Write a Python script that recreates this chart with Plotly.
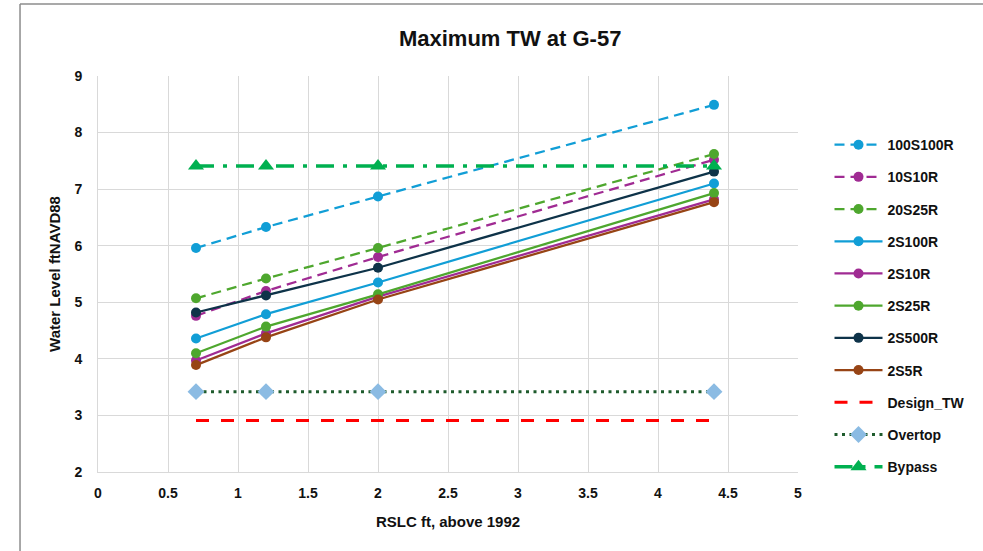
import plotly.graph_objects as go

# RSLC scenarios (ft above 1992)
rslc = [0.7, 1.2, 2.0, 4.4]

# Maximum tailwater at G-57 (ft NAVD88) per storm/rain scenario
s100s100r = [5.96, 6.33, 6.87, 8.49]
s10s10r = [4.76, 5.20, 5.80, 7.52]
s20s25r = [5.07, 5.42, 5.96, 7.62]
s2s100r = [4.36, 4.79, 5.35, 7.10]
s2s10r = [3.97, 4.45, 5.10, 6.82]
s2s25r = [4.10, 4.57, 5.14, 6.93]
s2s500r = [4.82, 5.12, 5.61, 7.31]
s2s5r = [3.89, 4.38, 5.05, 6.77]
design_tw = [2.91, 2.91, 2.91, 2.91]
overtop = [3.42, 3.42, 3.42, 3.42]
bypass = [7.41, 7.41, 7.41, 7.41]

series_names = ["100S100R", "10S10R", "20S25R", "2S100R", "2S10R", "2S25R",
                "2S500R", "2S5R", "Design_TW", "Overtop", "Bypass"]

BLUE = "#119ED6"
PURPLE = "#A02B93"
GREEN = "#4EA72E"
NAVY = "#0E3349"
BROWN = "#974415"

FONT = "Liberation Sans, Arial, sans-serif"

fig = go.Figure()


def add_series(name, values, color, dash="solid", width=2.25, symbol="circle",
               msize=10, mcolor=None, mode="lines+markers"):
    fig.add_trace(go.Scatter(
        x=rslc, y=values, name=name, mode=mode, legendgroup=name,
        line=dict(color=color, width=width, dash=dash),
        marker=dict(symbol=symbol, size=msize, color=mcolor or color,
                    line=dict(width=0)),
    ))


add_series(series_names[0], s100s100r, BLUE, dash="10px,6px")
add_series(series_names[1], s10s10r, PURPLE, dash="10px,6px")
add_series(series_names[2], s20s25r, GREEN, dash="10px,6px")
add_series(series_names[3], s2s100r, BLUE)
add_series(series_names[4], s2s10r, PURPLE)
add_series(series_names[5], s2s25r, GREEN)
add_series(series_names[6], s2s500r, NAVY)
add_series(series_names[7], s2s5r, BROWN)
add_series(series_names[8], design_tw, "#FF0000", dash="13px,12px", width=3,
           mode="lines")
add_series(series_names[9], overtop, "#1E5B2C", dash="3px,4.5px", width=3,
           symbol="diamond", msize=13, mcolor="#8BBBE3")
add_series(series_names[10], bypass, "#00B050", dash="18px,9px,4px,9px",
           width=3.5, symbol="triangle-up", msize=14)

fig.update_layout(
    width=983, height=551,
    margin=dict(l=98, r=185, t=76, b=79),
    paper_bgcolor="white", plot_bgcolor="white",
    font=dict(family=FONT, color="#111111"),
    title=dict(text="<b>Maximum TW at G-57</b>", x=0.519, xanchor="center",
               y=0.931, yanchor="middle",
               font=dict(family=FONT, size=22, color="#111111")),
    legend=dict(x=1.045, xanchor="left", y=0.866, yanchor="top",
                font=dict(family=FONT, size=14, color="#111111", weight="bold"),
                itemwidth=48, tracegroupgap=11, bgcolor="rgba(0,0,0,0)"),
    showlegend=True,
)

fig.update_xaxes(
    range=[0, 5], dtick=0.5, showgrid=True, gridcolor="#D9D9D9", gridwidth=1,
    zeroline=False, showline=True, linecolor="#D9D9D9", linewidth=1,
    ticks="", ticklabelstandoff=8,
    tickfont=dict(family=FONT, size=14, color="#111111", weight="bold"),
    title=dict(text="<b>RSLC ft, above 1992</b>", standoff=16,
               font=dict(family=FONT, size=15, color="#111111")),
)
fig.update_yaxes(
    range=[2, 9], dtick=1, showgrid=True, gridcolor="#D9D9D9", gridwidth=1,
    zeroline=False, showline=True, linecolor="#D9D9D9", linewidth=1,
    ticks="", ticklabelstandoff=12,
    tickfont=dict(family=FONT, size=14, color="#111111", weight="bold"),
    title=dict(text="<b>Water Level ftNAVD88</b>", standoff=10,
               font=dict(family=FONT, size=15, color="#111111")),
)

# Outer chart frame (left and top edges)
fig.add_shape(type="line", xref="paper", yref="paper",
              x0=-0.1114, x1=1.3, y0=1.1818, y1=1.1818,
              line=dict(color="#8C8C8C", width=1.5))
fig.add_shape(type="line", xref="paper", yref="paper",
              x0=-0.1114, x1=-0.1114, y0=1.1818, y1=-0.3,
              line=dict(color="#8C8C8C", width=1.5))

fig.write_html("out.html")
